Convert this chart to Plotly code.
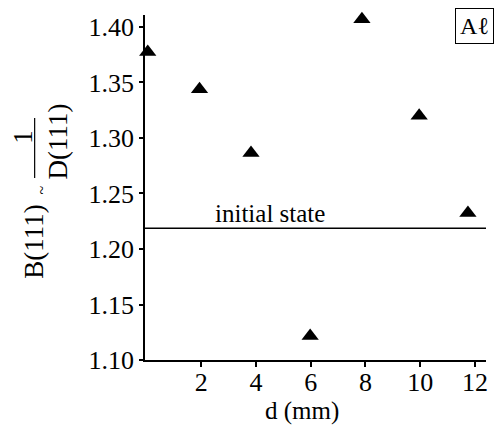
import plotly.graph_objects as go

# Data
d_mm = [0.05, 1.94, 3.82, 5.98, 7.87, 9.96, 11.74]
b111 = [1.3775, 1.344, 1.2865, 1.1216, 1.407, 1.320, 1.2324]
initial_state = 1.2187
x_ticks = [2, 4, 6, 8, 10, 12]
y_ticks = [1.10, 1.15, 1.20, 1.25, 1.30, 1.35, 1.40]

W, H = 499, 426
L, R, T, B = 145, 11, 15, 66
PW, PH = W - L - R, H - T - B

def px(x):
    return (x - L) / PW

def py(y):
    return (H - B - y) / PH

FONT = "Liberation Serif"

fig = go.Figure()
fig.add_trace(go.Scatter(
    x=d_mm, y=b111, mode="markers",
    marker=dict(symbol="triangle-up", size=15, color="black"),
    showlegend=False, cliponaxis=False,
))

fig.add_shape(type="line", xref="paper", yref="y", x0=0, x1=1,
              y0=initial_state, y1=initial_state,
              line=dict(color="black", width=1.5))

annotations = [
    dict(text="initial state", x=px(271), y=py(213), font=dict(size=25)),
    dict(text="d (mm)", x=px(303), y=py(411), font=dict(size=25)),
    dict(text="B(111)", x=px(33), y=py(241), textangle=-90, font=dict(size=27)),
    dict(text="~", x=px(40), y=py(190), textangle=-90, font=dict(size=16)),
    dict(text="1", x=px(22), y=py(137), textangle=-90, font=dict(size=27)),
    dict(text="D(111)", x=px(57), y=py(142), textangle=-90, font=dict(size=27)),
    dict(text="A\u2113", x=px(476), y=py(26), font=dict(size=24),
         bordercolor="black", borderwidth=1, borderpad=4, bgcolor="white"),
]
for a in annotations:
    a.update(xref="paper", yref="paper", showarrow=False,
             xanchor="center", yanchor="middle")
    a["font"].update(family=FONT, color="black")
    fig.add_annotation(**a)

# fraction line
fig.add_shape(type="line", xref="paper", yref="paper",
              x0=px(34), x1=px(34), y0=py(118), y1=py(178),
              line=dict(color="black", width=1.2))

fig.update_layout(
    width=W, height=H,
    margin=dict(l=L, r=R, t=T, b=B),
    paper_bgcolor="white", plot_bgcolor="white",
    font=dict(family=FONT, color="black", size=26),
    xaxis=dict(range=[-0.05, 12.4], tickvals=x_ticks,
               ticktext=[str(v) for v in x_ticks],
               showline=True, linecolor="black", linewidth=1.5,
               ticks="outside", ticklen=5, tickcolor="black", tickwidth=1.5,
               showgrid=False, zeroline=False, mirror=False,
               ticklabelstandoff=-7,
               tickfont=dict(size=26)),
    yaxis=dict(range=[1.10, 1.4108], tickvals=y_ticks,
               ticktext=["%.2f" % v for v in y_ticks],
               showline=True, linecolor="black", linewidth=1.5,
               ticks="outside", ticklen=4, tickcolor="black", tickwidth=1.5,
               showgrid=False, zeroline=False,
               tickfont=dict(size=26)),
)

fig.write_html("out.html", config={"displayModeBar": False},
               post_script="document.body.style.margin='0';document.body.style.overflow='hidden';")
